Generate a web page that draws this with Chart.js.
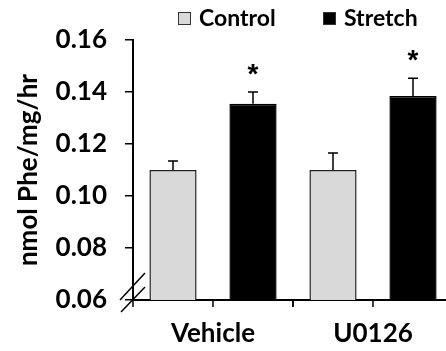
<!DOCTYPE html>
<html>
<head>
<meta charset="utf-8">
<script src="https://cdn.jsdelivr.net/npm/chart.js@4"></script>
<style>
  html, body { margin: 0; padding: 0; background: #fff; overflow: hidden; }
  #wrap { width: 460px; height: 351px; }
</style>
</head>
<body>
<div id="wrap"><canvas id="chart"></canvas></div>
<script>
const groups = ['Vehicle', 'U0126'];
const controlVals = [0.110, 0.110];
const stretchVals = [0.1355, 0.1385];
const controlErr = [0.0035, 0.0065];
const stretchErr = [0.0045, 0.0068];
const stretchSig = ['*', '*'];

const FONT = 'Lato, "Open Sans", sans-serif';

// error bars (up only), asterisks, axis break, x tick marks
const extras = {
  id: 'extras',
  afterDatasetsDraw(chart) {
    const ctx = chart.ctx;
    const y = chart.scales.y;
    const x = chart.scales.x;
    const area = chart.chartArea;
    ctx.save();
    ctx.strokeStyle = '#000';
    ctx.lineWidth = 1.5;
    const errs = [controlErr, stretchErr];
    chart.data.datasets.forEach((ds, di) => {
      chart.getDatasetMeta(di).data.forEach((bar, i) => {
        const top = y.getPixelForValue(ds.data[i] + errs[di][i]);
        ctx.beginPath();
        ctx.moveTo(bar.x, bar.y);
        ctx.lineTo(bar.x, top);
        ctx.moveTo(bar.x - 5, top);
        ctx.lineTo(bar.x + 5, top);
        ctx.stroke();
        if (di === 1 && stretchSig[i]) {
          ctx.fillStyle = '#000';
          ctx.font = 'bold 28px "Liberation Sans", Arial, sans-serif';
          ctx.textAlign = 'center';
          ctx.textBaseline = 'alphabetic';
          ctx.fillText(stretchSig[i], bar.x, top - 9);
        }
      });
    });

    // x tick marks at group edges and middles
    const half = (x.getPixelForValue(1) - x.getPixelForValue(0)) / 2;
    ctx.lineWidth = 1.5;
    groups.forEach((g, i) => {
      const c = x.getPixelForValue(i);
      [c - half, c, c + half].forEach(px => {
        ctx.beginPath();
        ctx.moveTo(px, area.bottom);
        ctx.lineTo(px, area.bottom + 7);
        ctx.stroke();
      });
    });

    // axis break
    const ox = area.left, oy = area.bottom;
    ctx.lineWidth = 1.5;
    [[-13, 0, 12, -27], [-12, 12, 12, -13]].forEach(s => {
      ctx.beginPath();
      ctx.moveTo(ox + s[0], oy + s[1]);
      ctx.lineTo(ox + s[2], oy + s[3]);
      ctx.stroke();
    });
    ctx.restore();

    // legend
    ctx.save();
    ctx.font = 'bold 23px ' + FONT;
    ctx.textBaseline = 'middle';
    ctx.textAlign = 'left';
    const items = [
      { x: 178, label: chart.data.datasets[0].label, fill: '#d9d9d9' },
      { x: 323, label: chart.data.datasets[1].label, fill: '#000' }
    ];
    items.forEach(it => {
      ctx.fillStyle = it.fill;
      ctx.strokeStyle = '#333';
      ctx.lineWidth = 1;
      ctx.fillRect(it.x, 12, 13, 13);
      ctx.strokeRect(it.x + 0.5, 12.5, 12, 12);
      ctx.fillStyle = '#000';
      ctx.fillText(it.label, it.x + 21, 19);
    });
    ctx.restore();
  }
};

new Chart(document.getElementById('chart'), {
  type: 'bar',
  data: {
    labels: groups,
    datasets: [
      {
        label: 'Control',
        data: controlVals,
        backgroundColor: '#d9d9d9',
        borderColor: '#222',
        borderWidth: 1.5,
        borderSkipped: 'bottom'
      },
      {
        label: 'Stretch',
        data: stretchVals,
        backgroundColor: '#000',
        borderColor: '#000',
        borderWidth: 1.5,
        borderSkipped: 'bottom'
      }
    ]
  },
  options: {
    responsive: true,
    maintainAspectRatio: false,
    animation: false,
    categoryPercentage: 1.0,
    barPercentage: 0.59,
    layout: { padding: { top: 40, left: 0, right: 7, bottom: 0 } },
    plugins: {
      legend: { display: false },
      tooltip: { enabled: false }
    },
    scales: {
      x: {
        grid: { display: false, drawTicks: false },
        border: { display: true, color: '#000', width: 2 },
        ticks: {
          color: '#000',
          padding: 18,
          font: { family: FONT, size: 26, weight: 'bold' }
        },
        afterFit(scale) { scale.height = 51; }
      },
      y: {
        min: 0.06,
        max: 0.16,
        grid: { drawOnChartArea: false, tickLength: 8, color: '#000', lineWidth: 1.5 },
        border: { display: true, color: '#000', width: 2 },
        ticks: {
          stepSize: 0.02,
          color: '#000',
          padding: 18,
          font: { family: FONT, size: 26, weight: 'bold' },
          callback: v => v.toFixed(2)
        },
        title: {
          display: true,
          text: 'nmol Phe/mg/hr',
          color: '#000',
          padding: { top: 13, bottom: 0 },
          font: { family: FONT, size: 26, weight: 'bold' }
        },
        afterFit(scale) { scale.width = 133; }
      }
    }
  },
  plugins: [extras]
});
</script>
</body>
</html>
